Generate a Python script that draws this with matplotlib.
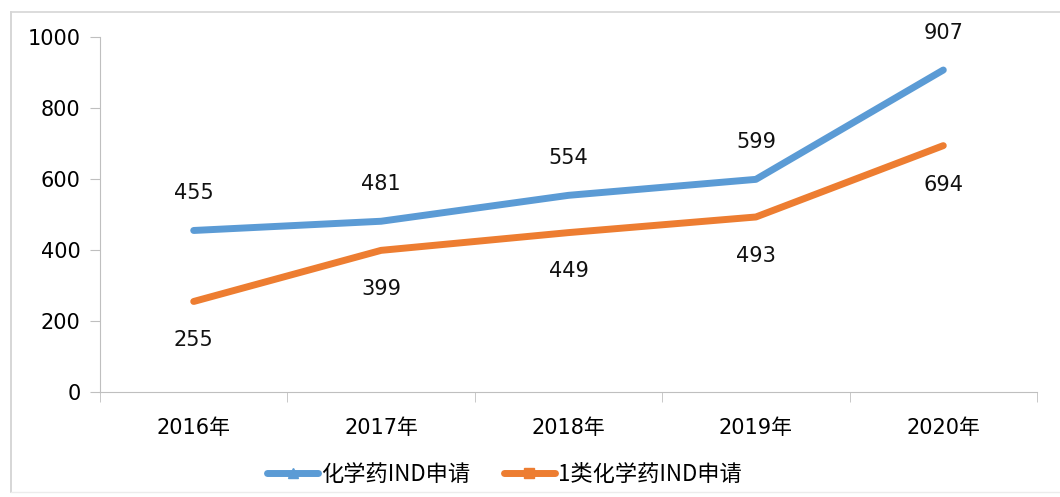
import matplotlib
matplotlib.use("Agg")
import matplotlib.pyplot as plt
from matplotlib.lines import Line2D

plt.rcParams['font.family'] = ['DejaVu Sans', 'Noto Sans CJK SC']

years = ["2016年", "2017年", "2018年", "2019年", "2020年"]
chem_ind = [455, 481, 554, 599, 907]
class1_ind = [255, 399, 449, 493, 694]
series_names = ["化学药IND申请", "1类化学药IND申请"]
yticks = [0, 200, 400, 600, 800, 1000]

blue = "#5B9BD5"
orange = "#ED7D31"

fig = plt.figure(figsize=(10.6, 4.97), dpi=100)
# faint outer frame (left, top, bottom)
fig.add_artist(Line2D([10.5/1060, 10.5/1060], [1 - 12/497, 1 - 492/497], transform=fig.transFigure,
                      color="#cfcfcf", linewidth=1.2))
fig.add_artist(Line2D([10.5/1060, 1.0], [1 - 12/497, 1 - 12/497], transform=fig.transFigure,
                      color="#d6d6d6", linewidth=1.2))
fig.add_artist(Line2D([10.5/1060, 1.0], [1 - 492/497, 1 - 492/497], transform=fig.transFigure,
                      color="#ececec", linewidth=1.0))

ax = fig.add_axes([100/1060, 1 - 392/497, 937/1060, (392 - 37)/497])

x = list(range(len(years)))
ax.plot(x, chem_ind, color=blue, linewidth=5, solid_capstyle="round")
ax.plot(x, class1_ind, color=orange, linewidth=5, solid_capstyle="round")

for i, v in enumerate(chem_ind):
    ax.annotate(str(v), (i, v), xytext=(0, 27), textcoords="offset points",
                ha="center", va="center", fontsize=15, color="#111111")
for i, v in enumerate(class1_ind):
    ax.annotate(str(v), (i, v), xytext=(0, -28), textcoords="offset points",
                ha="center", va="center", fontsize=15, color="#111111")

ax.set_xlim(-0.5, len(years) - 0.5)
ax.set_ylim(0, 1000)
ax.set_yticks(yticks)
ax.set_yticklabels([str(t) for t in yticks], fontsize=15)
ax.set_xticks(x)
ax.set_xticklabels(years, fontsize=15)
ax.set_xticks([i - 0.5 for i in range(len(years) + 1)], minor=True)
ax.tick_params(axis="x", which="major", length=0, pad=19)
ax.tick_params(axis="x", which="minor", length=7, color="#bfbfbf")
ax.tick_params(axis="y", length=7, color="#bfbfbf", pad=7)
for s in ["top", "right"]:
    ax.spines[s].set_visible(False)
for s in ["left", "bottom"]:
    ax.spines[s].set_color("#bfbfbf")

handles = [
    Line2D([], [], color=blue, linewidth=5, marker="^", markersize=7, solid_capstyle="round"),
    Line2D([], [], color=orange, linewidth=5, marker="s", markersize=7, solid_capstyle="round"),
]
fig.legend(handles=handles, labels=series_names, loc="center",
           bbox_to_anchor=(0.476, 1 - 474/497), ncol=2, frameon=False,
           handlelength=2.3, handletextpad=0.15, columnspacing=1.5,
           prop={'family': ['Noto Sans CJK SC', 'DejaVu Sans'], 'size': 16})

fig.savefig("out.png", dpi=100)
